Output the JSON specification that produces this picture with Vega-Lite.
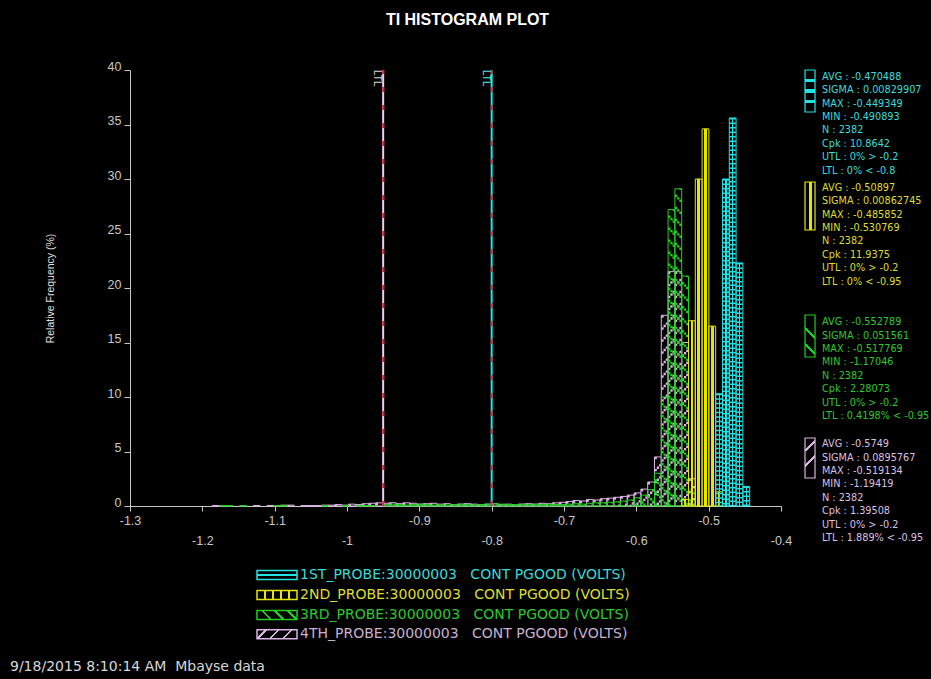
{
 "$schema": "https://vega.github.io/schema/vega-lite/v6.json",
 "width": 651,
 "height": 436,
 "autosize": {"type": "none"},
 "padding": {"left": 130, "top": 70, "right": 150, "bottom": 173},
 "background": "#000000",
 "config": {"view": {"stroke": null}},
 "title": {"text": "TI HISTOGRAM PLOT", "color": "#ffffff", "font": "Liberation Sans", "fontSize": 16, "fontWeight": "bold", "anchor": "middle", "frame": "group", "dx": 12, "offset": 32},
 "datasets": {
  "hist": [
   {"s":"P1","x0":-0.4903,"x1":-0.4809,"pct":10.3},
   {"s":"P1","x0":-0.4809,"x1":-0.4715,"pct":30.0},
   {"s":"P1","x0":-0.4715,"x1":-0.4621,"pct":35.6},
   {"s":"P1","x0":-0.4621,"x1":-0.4527,"pct":22.3},
   {"s":"P1","x0":-0.4527,"x1":-0.4433,"pct":1.8},
   {"s":"P2","x0":-0.5373,"x1":-0.5279,"pct":0.6},
   {"s":"P2","x0":-0.5279,"x1":-0.5185,"pct":17.0},
   {"s":"P2","x0":-0.5185,"x1":-0.5091,"pct":30.0},
   {"s":"P2","x0":-0.5091,"x1":-0.4997,"pct":34.6},
   {"s":"P2","x0":-0.4997,"x1":-0.4903,"pct":16.5},
   {"s":"P2","x0":-0.4903,"x1":-0.4809,"pct":1.3},
   {"s":"P3","x0":-1.1765,"x1":-1.1671,"pct":0.04},
   {"s":"P3","x0":-1.1671,"x1":-1.1577,"pct":0.04},
   {"s":"P3","x0":-1.1483,"x1":-1.1389,"pct":0.04},
   {"s":"P3","x0":-1.1013,"x1":-1.0919,"pct":0.04},
   {"s":"P3","x0":-1.0919,"x1":-1.0825,"pct":0.04},
   {"s":"P3","x0":-1.0355,"x1":-1.0261,"pct":0.04},
   {"s":"P3","x0":-1.0073,"x1":-0.9979,"pct":0.04},
   {"s":"P3","x0":-0.9885,"x1":-0.9791,"pct":0.04},
   {"s":"P3","x0":-0.9791,"x1":-0.9697,"pct":0.04},
   {"s":"P3","x0":-0.9697,"x1":-0.9603,"pct":0.04},
   {"s":"P3","x0":-0.9509,"x1":-0.9415,"pct":0.13},
   {"s":"P3","x0":-0.9415,"x1":-0.9321,"pct":0.17},
   {"s":"P3","x0":-0.9321,"x1":-0.9227,"pct":0.13},
   {"s":"P3","x0":-0.9227,"x1":-0.9133,"pct":0.08},
   {"s":"P3","x0":-0.9133,"x1":-0.9039,"pct":0.13},
   {"s":"P3","x0":-0.9039,"x1":-0.8945,"pct":0.17},
   {"s":"P3","x0":-0.8945,"x1":-0.8851,"pct":0.13},
   {"s":"P3","x0":-0.8851,"x1":-0.8757,"pct":0.08},
   {"s":"P3","x0":-0.8757,"x1":-0.8663,"pct":0.13},
   {"s":"P3","x0":-0.8663,"x1":-0.8569,"pct":0.08},
   {"s":"P3","x0":-0.8569,"x1":-0.8475,"pct":0.13},
   {"s":"P3","x0":-0.8475,"x1":-0.8381,"pct":0.17},
   {"s":"P3","x0":-0.8381,"x1":-0.8287,"pct":0.13},
   {"s":"P3","x0":-0.8287,"x1":-0.8193,"pct":0.08},
   {"s":"P3","x0":-0.8193,"x1":-0.8099,"pct":0.13},
   {"s":"P3","x0":-0.8099,"x1":-0.8005,"pct":0.17},
   {"s":"P3","x0":-0.8005,"x1":-0.7911,"pct":0.21},
   {"s":"P3","x0":-0.7911,"x1":-0.7817,"pct":0.17},
   {"s":"P3","x0":-0.7817,"x1":-0.7723,"pct":0.13},
   {"s":"P3","x0":-0.7723,"x1":-0.7629,"pct":0.13},
   {"s":"P3","x0":-0.7629,"x1":-0.7535,"pct":0.17},
   {"s":"P3","x0":-0.7535,"x1":-0.7441,"pct":0.13},
   {"s":"P3","x0":-0.7441,"x1":-0.7347,"pct":0.17},
   {"s":"P3","x0":-0.7347,"x1":-0.7253,"pct":0.13},
   {"s":"P3","x0":-0.7253,"x1":-0.7159,"pct":0.17},
   {"s":"P3","x0":-0.7159,"x1":-0.7065,"pct":0.13},
   {"s":"P3","x0":-0.7065,"x1":-0.6971,"pct":0.13},
   {"s":"P3","x0":-0.6971,"x1":-0.6877,"pct":0.17},
   {"s":"P3","x0":-0.6877,"x1":-0.6783,"pct":0.21},
   {"s":"P3","x0":-0.6783,"x1":-0.6689,"pct":0.17},
   {"s":"P3","x0":-0.6689,"x1":-0.6595,"pct":0.25},
   {"s":"P3","x0":-0.6595,"x1":-0.6501,"pct":0.29},
   {"s":"P3","x0":-0.6501,"x1":-0.6407,"pct":0.3},
   {"s":"P3","x0":-0.6407,"x1":-0.6313,"pct":0.34},
   {"s":"P3","x0":-0.6313,"x1":-0.6219,"pct":0.38},
   {"s":"P3","x0":-0.6219,"x1":-0.6125,"pct":0.46},
   {"s":"P3","x0":-0.6125,"x1":-0.6031,"pct":0.55},
   {"s":"P3","x0":-0.6031,"x1":-0.5937,"pct":0.76},
   {"s":"P3","x0":-0.5937,"x1":-0.5843,"pct":1.0},
   {"s":"P3","x0":-0.5843,"x1":-0.5749,"pct":1.5},
   {"s":"P3","x0":-0.5749,"x1":-0.5655,"pct":3.0},
   {"s":"P3","x0":-0.5655,"x1":-0.5561,"pct":10.0},
   {"s":"P3","x0":-0.5561,"x1":-0.5467,"pct":27.2},
   {"s":"P3","x0":-0.5467,"x1":-0.5373,"pct":29.1},
   {"s":"P3","x0":-0.5373,"x1":-0.5279,"pct":21.1},
   {"s":"P3","x0":-0.5279,"x1":-0.5185,"pct":1.2},
   {"s":"P4","x0":-1.1859,"x1":-1.1765,"pct":0.04},
   {"s":"P4","x0":-1.1295,"x1":-1.1201,"pct":0.04},
   {"s":"P4","x0":-1.1107,"x1":-1.1013,"pct":0.04},
   {"s":"P4","x0":-1.0919,"x1":-1.0825,"pct":0.08},
   {"s":"P4","x0":-1.0825,"x1":-1.0731,"pct":0.08},
   {"s":"P4","x0":-1.0637,"x1":-1.0543,"pct":0.04},
   {"s":"P4","x0":-1.0543,"x1":-1.0449,"pct":0.04},
   {"s":"P4","x0":-1.0449,"x1":-1.0355,"pct":0.04},
   {"s":"P4","x0":-1.0355,"x1":-1.0261,"pct":0.08},
   {"s":"P4","x0":-1.0261,"x1":-1.0167,"pct":0.08},
   {"s":"P4","x0":-1.0167,"x1":-1.0073,"pct":0.13},
   {"s":"P4","x0":-1.0073,"x1":-0.9979,"pct":0.08},
   {"s":"P4","x0":-0.9979,"x1":-0.9885,"pct":0.17},
   {"s":"P4","x0":-0.9885,"x1":-0.9791,"pct":0.13},
   {"s":"P4","x0":-0.9791,"x1":-0.9697,"pct":0.21},
   {"s":"P4","x0":-0.9697,"x1":-0.9603,"pct":0.25},
   {"s":"P4","x0":-0.9603,"x1":-0.9509,"pct":0.29},
   {"s":"P4","x0":-0.9509,"x1":-0.9415,"pct":0.25},
   {"s":"P4","x0":-0.9415,"x1":-0.9321,"pct":0.3},
   {"s":"P4","x0":-0.9321,"x1":-0.9227,"pct":0.21},
   {"s":"P4","x0":-0.9227,"x1":-0.9133,"pct":0.29},
   {"s":"P4","x0":-0.9133,"x1":-0.9039,"pct":0.25},
   {"s":"P4","x0":-0.9039,"x1":-0.8945,"pct":0.17},
   {"s":"P4","x0":-0.8945,"x1":-0.8851,"pct":0.21},
   {"s":"P4","x0":-0.8851,"x1":-0.8757,"pct":0.25},
   {"s":"P4","x0":-0.8757,"x1":-0.8663,"pct":0.17},
   {"s":"P4","x0":-0.8663,"x1":-0.8569,"pct":0.21},
   {"s":"P4","x0":-0.8569,"x1":-0.8475,"pct":0.13},
   {"s":"P4","x0":-0.8475,"x1":-0.8381,"pct":0.17},
   {"s":"P4","x0":-0.8381,"x1":-0.8287,"pct":0.21},
   {"s":"P4","x0":-0.8287,"x1":-0.8193,"pct":0.17},
   {"s":"P4","x0":-0.8193,"x1":-0.8099,"pct":0.13},
   {"s":"P4","x0":-0.8099,"x1":-0.8005,"pct":0.17},
   {"s":"P4","x0":-0.8005,"x1":-0.7911,"pct":0.21},
   {"s":"P4","x0":-0.7911,"x1":-0.7817,"pct":0.13},
   {"s":"P4","x0":-0.7817,"x1":-0.7723,"pct":0.17},
   {"s":"P4","x0":-0.7723,"x1":-0.7629,"pct":0.13},
   {"s":"P4","x0":-0.7629,"x1":-0.7535,"pct":0.17},
   {"s":"P4","x0":-0.7535,"x1":-0.7441,"pct":0.21},
   {"s":"P4","x0":-0.7441,"x1":-0.7347,"pct":0.17},
   {"s":"P4","x0":-0.7347,"x1":-0.7253,"pct":0.25},
   {"s":"P4","x0":-0.7253,"x1":-0.7159,"pct":0.21},
   {"s":"P4","x0":-0.7159,"x1":-0.7065,"pct":0.29},
   {"s":"P4","x0":-0.7065,"x1":-0.6971,"pct":0.34},
   {"s":"P4","x0":-0.6971,"x1":-0.6877,"pct":0.42},
   {"s":"P4","x0":-0.6877,"x1":-0.6783,"pct":0.5},
   {"s":"P4","x0":-0.6783,"x1":-0.6689,"pct":0.46},
   {"s":"P4","x0":-0.6689,"x1":-0.6595,"pct":0.59},
   {"s":"P4","x0":-0.6595,"x1":-0.6501,"pct":0.55},
   {"s":"P4","x0":-0.6501,"x1":-0.6407,"pct":0.67},
   {"s":"P4","x0":-0.6407,"x1":-0.6313,"pct":0.72},
   {"s":"P4","x0":-0.6313,"x1":-0.6219,"pct":0.8},
   {"s":"P4","x0":-0.6219,"x1":-0.6125,"pct":0.88},
   {"s":"P4","x0":-0.6125,"x1":-0.6031,"pct":1.0},
   {"s":"P4","x0":-0.6031,"x1":-0.5937,"pct":1.2},
   {"s":"P4","x0":-0.5937,"x1":-0.5843,"pct":1.55},
   {"s":"P4","x0":-0.5843,"x1":-0.5749,"pct":2.2},
   {"s":"P4","x0":-0.5749,"x1":-0.5655,"pct":4.5},
   {"s":"P4","x0":-0.5655,"x1":-0.5561,"pct":17.5},
   {"s":"P4","x0":-0.5561,"x1":-0.5467,"pct":21.5},
   {"s":"P4","x0":-0.5467,"x1":-0.5373,"pct":21.5},
   {"s":"P4","x0":-0.5373,"x1":-0.5279,"pct":15.0},
   {"s":"P4","x0":-0.5279,"x1":-0.5185,"pct":2.5}
  ],
  "stats": [
   {"s":"P1","lines":["AVG : -0.470488","SIGMA : 0.00829907","MAX : -0.449349","MIN : -0.490893","N : 2382","Cpk : 10.8642","UTL : 0% > -0.2","LTL : 0% < -0.8"]},
   {"s":"P2","lines":["AVG : -0.50897","SIGMA : 0.00862745","MAX : -0.485852","MIN : -0.530769","N : 2382","Cpk : 11.9375","UTL : 0% > -0.2","LTL : 0% < -0.95"]},
   {"s":"P3","lines":["AVG : -0.552789","SIGMA : 0.051561","MAX : -0.517769","MIN : -1.17046","N : 2382","Cpk : 2.28073","UTL : 0% > -0.2","LTL : 0.4198% < -0.95"]},
   {"s":"P4","lines":["AVG : -0.5749","SIGMA : 0.0895767","MAX : -0.519134","MIN : -1.19419","N : 2382","Cpk : 1.39508","UTL : 0% > -0.2","LTL : 1.889% < -0.95"]}
  ],
  "legend": [
   {"s":"P1","label":"1ST_PROBE:30000003\u00a0\u00a0\u00a0CONT PGOOD (VOLTS)"},
   {"s":"P2","label":"2ND_PROBE:30000003\u00a0\u00a0\u00a0CONT PGOOD (VOLTS)"},
   {"s":"P3","label":"3RD_PROBE:30000003\u00a0\u00a0\u00a0CONT PGOOD (VOLTS)"},
   {"s":"P4","label":"4TH_PROBE:30000003\u00a0\u00a0\u00a0CONT PGOOD (VOLTS)"}
  ]
 },
 "layer": [
  {"data":{"name":"hist"},"transform":[{"filter":"datum.s=='P4'"}],
   "mark":{"type":"bar","fill":"rgba(0,0,0,0)","stroke":"#dcb4e6","strokeWidth":1},
   "encoding":{
    "x":{"field":"x0","type":"quantitative","scale":{"domain":[-1.3,-0.4],"nice":false,"zero":false},
     "axis":{"title":null,"grid":false,"values":[-1.3,-1.2,-1.1,-1,-0.9,-0.8,-0.7,-0.6,-0.5,-0.4],"labelExpr":"abs(round(datum.value*10)) % 2 == 0 ? ['', '' + datum.value] : '' + datum.value","labelLineHeight":20,"labelOverlap":false,"labelFlush":false,"labelColor":"#c8c8c8","labelFont":"Liberation Sans","labelFontSize":12.5,"labelPadding":3,"tickSize":5,"tickColor":"#c8c8c8","domainColor":"#c8c8c8"}},
    "x2":{"field":"x1"},
    "y":{"field":"pct","type":"quantitative","scale":{"domain":[0,40],"nice":false},
     "axis":{"title":"Relative Frequency (%)","titleColor":"#e0e0e0","titleFont":"Liberation Sans","titleFontSize":10.5,"titleFontWeight":"normal","titlePadding":52,"grid":false,"values":[0,5,10,15,20,25,30,35,40],"labelExpr":"'' + datum.value","labelColor":"#c8c8c8","labelFont":"Liberation Sans","labelFontSize":12.5,"labelBaseline":"alphabetic","labelPadding":3,"tickSize":6,"tickColor":"#c8c8c8","domainColor":"#c8c8c8"}},
    "y2":{"datum":0}
   }},
  {"data":{"name":"hist"},"transform":[{"filter":"datum.s=='P4'"}],
   "mark":{"type":"rule","color":"#dcb4e6","strokeWidth":2.3,"strokeDash":[2.4,9.6],"strokeDashOffset":0,"xOffset":1.2},
   "encoding":{"x":{"field":"x0","type":"quantitative"},"y":{"field":"pct","type":"quantitative"},"y2":{"datum":0}}},
  {"data":{"name":"hist"},"transform":[{"filter":"datum.s=='P4'"}],
   "mark":{"type":"rule","color":"#dcb4e6","strokeWidth":2.3,"strokeDash":[2.4,9.6],"strokeDashOffset":2.4,"xOffset":3.4},
   "encoding":{"x":{"field":"x0","type":"quantitative"},"y":{"field":"pct","type":"quantitative"},"y2":{"datum":0}}},
  {"data":{"name":"hist"},"transform":[{"filter":"datum.s=='P4'"}],
   "mark":{"type":"rule","color":"#dcb4e6","strokeWidth":2.3,"strokeDash":[2.4,9.6],"strokeDashOffset":4.8,"xOffset":5.6},
   "encoding":{"x":{"field":"x0","type":"quantitative"},"y":{"field":"pct","type":"quantitative"},"y2":{"datum":0}}},
  {"data":{"name":"hist"},"transform":[{"filter":"datum.s=='P3'"}],
   "mark":{"type":"bar","fill":"rgba(0,0,0,0)","stroke":"#22d022","strokeWidth":1},
   "encoding":{"x":{"field":"x0","type":"quantitative"},"x2":{"field":"x1"},"y":{"field":"pct","type":"quantitative"},"y2":{"datum":0}}},
  {"data":{"name":"hist"},"transform":[{"filter":"datum.s=='P3'"}],
   "mark":{"type":"rule","color":"#22d022","strokeWidth":2.3,"strokeDash":[2.4,9.6],"strokeDashOffset":6,"xOffset":1.2},
   "encoding":{"x":{"field":"x0","type":"quantitative"},"y":{"field":"pct","type":"quantitative"},"y2":{"datum":0}}},
  {"data":{"name":"hist"},"transform":[{"filter":"datum.s=='P3'"}],
   "mark":{"type":"rule","color":"#22d022","strokeWidth":2.3,"strokeDash":[2.4,9.6],"strokeDashOffset":3.6,"xOffset":3.4},
   "encoding":{"x":{"field":"x0","type":"quantitative"},"y":{"field":"pct","type":"quantitative"},"y2":{"datum":0}}},
  {"data":{"name":"hist"},"transform":[{"filter":"datum.s=='P3'"}],
   "mark":{"type":"rule","color":"#22d022","strokeWidth":2.3,"strokeDash":[2.4,9.6],"strokeDashOffset":1.2,"xOffset":5.6},
   "encoding":{"x":{"field":"x0","type":"quantitative"},"y":{"field":"pct","type":"quantitative"},"y2":{"datum":0}}},
  {"data":{"name":"hist"},"transform":[{"filter":"datum.s=='P2'"}],
   "mark":{"type":"bar","stroke":"#e6e600","strokeWidth":1,
    "fill":{"gradient":"linear","x1":0,"y1":0,"x2":1,"y2":0,"stops":[{"offset":0,"color":"rgba(0,0,0,0)"},{"offset":0.3,"color":"rgba(0,0,0,0)"},{"offset":0.3,"color":"#e6e600"},{"offset":0.7,"color":"#e6e600"},{"offset":0.7,"color":"rgba(0,0,0,0)"},{"offset":1,"color":"rgba(0,0,0,0)"}]}},
   "encoding":{"x":{"field":"x0","type":"quantitative"},"x2":{"field":"x1"},"y":{"field":"pct","type":"quantitative"},"y2":{"datum":0}}},
  {"data":{"name":"hist"},"transform":[{"filter":"datum.s=='P1'"}],
   "mark":{"type":"bar","stroke":"#22e4e4","strokeWidth":1,
    "fill":{"gradient":"linear","x1":0,"y1":0,"x2":1,"y2":0,"stops":[{"offset":0,"color":"rgba(0,0,0,0)"},{"offset":0.42,"color":"rgba(0,0,0,0)"},{"offset":0.42,"color":"#22e4e4"},{"offset":0.6,"color":"#22e4e4"},{"offset":0.6,"color":"rgba(0,0,0,0)"},{"offset":1,"color":"rgba(0,0,0,0)"}]}},
   "encoding":{"x":{"field":"x0","type":"quantitative"},"x2":{"field":"x1"},"y":{"field":"pct","type":"quantitative"},"y2":{"datum":0}}},
  {"data":{"name":"hist"},"transform":[{"filter":"datum.s=='P1'"}],
   "mark":{"type":"rule","color":"#22e4e4","strokeWidth":6.2,"strokeDash":[1.6,2.9],"xOffset":3.4},
   "encoding":{"x":{"field":"x0","type":"quantitative"},"y":{"field":"pct","type":"quantitative"},"y2":{"datum":0}}},
  {"data":{"values":[{"v":-0.95}]},"mark":{"type":"rule","color":"#f2cdf2","strokeWidth":2},
   "encoding":{"x":{"field":"v","type":"quantitative"},"y":{"datum":0},"y2":{"datum":40}}},
  {"data":{"values":[{"v":-0.95}]},"mark":{"type":"rule","color":"#e8203c","strokeWidth":2,"strokeDash":[5,13]},
   "encoding":{"x":{"field":"v","type":"quantitative"},"y":{"datum":0},"y2":{"datum":40}}},
  {"data":{"values":[{"v":-0.8}]},"mark":{"type":"rule","color":"#22e4e4","strokeWidth":2},
   "encoding":{"x":{"field":"v","type":"quantitative"},"y":{"datum":0},"y2":{"datum":40}}},
  {"data":{"values":[{"v":-0.8}]},"mark":{"type":"rule","color":"#e8203c","strokeWidth":2,"strokeDash":[5,13]},
   "encoding":{"x":{"field":"v","type":"quantitative"},"y":{"datum":0},"y2":{"datum":40}}},
  {"data":{"values":[{"v":-0.95,"t":"LTL"}]},"mark":{"type":"text","angle":90,"align":"left","baseline":"top","font":"Liberation Sans","fontSize":10,"color":"#d8d8d8","dy":1},
   "encoding":{"x":{"field":"v","type":"quantitative"},"y":{"datum":40},"text":{"field":"t"}}},
  {"data":{"values":[{"v":-0.8,"t":"LTL"}]},"mark":{"type":"text","angle":90,"align":"left","baseline":"top","font":"Liberation Sans","fontSize":10,"color":"#5ee8e8","dy":1},
   "encoding":{"x":{"field":"v","type":"quantitative"},"y":{"datum":40},"text":{"field":"t"}}},

  {"data":{"values":[{}]},"mark":{"type":"rect","stroke":"#22e4e4","strokeWidth":1.2,
    "fill":{"gradient":"linear","x1":0,"y1":0,"x2":0,"y2":1,"stops":[{"offset":0,"color":"rgba(0,0,0,0)"},{"offset":0.21,"color":"rgba(0,0,0,0)"},{"offset":0.21,"color":"#22e4e4"},{"offset":0.29,"color":"#22e4e4"},{"offset":0.29,"color":"rgba(0,0,0,0)"},{"offset":0.46,"color":"rgba(0,0,0,0)"},{"offset":0.46,"color":"#22e4e4"},{"offset":0.54,"color":"#22e4e4"},{"offset":0.54,"color":"rgba(0,0,0,0)"},{"offset":0.71,"color":"rgba(0,0,0,0)"},{"offset":0.71,"color":"#22e4e4"},{"offset":0.79,"color":"#22e4e4"},{"offset":0.79,"color":"rgba(0,0,0,0)"},{"offset":1,"color":"rgba(0,0,0,0)"}]}},
   "encoding":{"x":{"datum":-0.36679},"x2":{"datum":-0.35297},"y":{"datum":40.0},"y2":{"datum":36.147}}},
  {"data":{"name":"stats"},"transform":[{"filter":"datum.s=='P1'"}],
   "mark":{"type":"text","align":"left","baseline":"top","lineHeight":13.4,"font":"DejaVu Sans","fontSize":9.7,"color":"#3cdcdc"},
   "encoding":{"x":{"datum":-0.3433},"y":{"datum":39.84},"text":{"field":"lines"}}},

  {"data":{"values":[{}]},"mark":{"type":"rect","stroke":"#e6e600","strokeWidth":1.2,
    "fill":{"gradient":"linear","x1":0,"y1":0,"x2":1,"y2":0,"stops":[{"offset":0,"color":"rgba(0,0,0,0)"},{"offset":0.35,"color":"rgba(0,0,0,0)"},{"offset":0.35,"color":"#e6e600"},{"offset":0.65,"color":"#e6e600"},{"offset":0.65,"color":"rgba(0,0,0,0)"},{"offset":1,"color":"rgba(0,0,0,0)"}]}},
   "encoding":{"x":{"datum":-0.36679},"x2":{"datum":-0.35297},"y":{"datum":29.725},"y2":{"datum":25.321}}},
  {"data":{"name":"stats"},"transform":[{"filter":"datum.s=='P2'"}],
   "mark":{"type":"text","align":"left","baseline":"top","lineHeight":13.4,"font":"DejaVu Sans","fontSize":9.7,"color":"#dede30"},
   "encoding":{"x":{"datum":-0.3433},"y":{"datum":29.656},"text":{"field":"lines"}}},

  {"data":{"values":[{}]},"mark":{"type":"rect","stroke":"#22d022","strokeWidth":1.2,
    "fill":{"gradient":"linear","x1":0,"y1":1,"x2":0.238,"y2":0,"stops":[{"offset":0,"color":"rgba(0,0,0,0)"},{"offset":0.26,"color":"rgba(0,0,0,0)"},{"offset":0.26,"color":"#22d022"},{"offset":0.33,"color":"#22d022"},{"offset":0.33,"color":"rgba(0,0,0,0)"},{"offset":0.62,"color":"rgba(0,0,0,0)"},{"offset":0.62,"color":"#22d022"},{"offset":0.69,"color":"#22d022"},{"offset":0.69,"color":"rgba(0,0,0,0)"},{"offset":1,"color":"rgba(0,0,0,0)"}]}},
   "encoding":{"x":{"datum":-0.36679},"x2":{"datum":-0.35297},"y":{"datum":17.523},"y2":{"datum":13.670}}},
  {"data":{"name":"stats"},"transform":[{"filter":"datum.s=='P3'"}],
   "mark":{"type":"text","align":"left","baseline":"top","lineHeight":13.4,"font":"DejaVu Sans","fontSize":9.7,"color":"#2ec82e"},
   "encoding":{"x":{"datum":-0.3433},"y":{"datum":17.317},"text":{"field":"lines"}}},

  {"data":{"values":[{}]},"mark":{"type":"rect","stroke":"#dcb4e6","strokeWidth":1.2,
    "fill":{"gradient":"linear","x1":0,"y1":0,"x2":0.238,"y2":1,"stops":[{"offset":0,"color":"rgba(0,0,0,0)"},{"offset":0.26,"color":"rgba(0,0,0,0)"},{"offset":0.26,"color":"#dcb4e6"},{"offset":0.33,"color":"#dcb4e6"},{"offset":0.33,"color":"rgba(0,0,0,0)"},{"offset":0.62,"color":"rgba(0,0,0,0)"},{"offset":0.62,"color":"#dcb4e6"},{"offset":0.69,"color":"#dcb4e6"},{"offset":0.69,"color":"rgba(0,0,0,0)"},{"offset":1,"color":"rgba(0,0,0,0)"}]}},
   "encoding":{"x":{"datum":-0.36679},"x2":{"datum":-0.35297},"y":{"datum":6.239},"y2":{"datum":2.569}}},
  {"data":{"name":"stats"},"transform":[{"filter":"datum.s=='P4'"}],
   "mark":{"type":"text","align":"left","baseline":"top","lineHeight":13.4,"font":"DejaVu Sans","fontSize":9.7,"color":"#dcc0e4"},
   "encoding":{"x":{"datum":-0.3433},"y":{"datum":6.124},"text":{"field":"lines"}}},

  {"data":{"values":[{}]},"mark":{"type":"rect","stroke":"#22e4e4","strokeWidth":1.5,
    "fill":{"gradient":"linear","x1":0,"y1":0,"x2":0,"y2":1,"stops":[{"offset":0,"color":"rgba(0,0,0,0)"},{"offset":0.4,"color":"rgba(0,0,0,0)"},{"offset":0.4,"color":"#22e4e4"},{"offset":0.6,"color":"#22e4e4"},{"offset":0.6,"color":"rgba(0,0,0,0)"},{"offset":1,"color":"rgba(0,0,0,0)"}]}},
   "encoding":{"x":{"datum":-1.1244},"x2":{"datum":-1.0691},"y":{"datum":-5.917},"y2":{"datum":-6.743}}},
  {"data":{"name":"legend"},"transform":[{"filter":"datum.s=='P1'"}],
   "mark":{"type":"text","align":"left","baseline":"middle","font":"DejaVu Sans","fontSize":14,"color":"#3cd8d8"},
   "encoding":{"x":{"datum":-1.0649},"y":{"datum":-6.33},"text":{"field":"label"}}},

  {"data":{"values":[{}]},"mark":{"type":"rect","stroke":"#e6e600","strokeWidth":1.5,
    "fill":{"gradient":"linear","x1":0,"y1":0,"x2":1,"y2":0,"stops":[{"offset":0,"color":"rgba(0,0,0,0)"},{"offset":0.17,"color":"rgba(0,0,0,0)"},{"offset":0.17,"color":"#e6e600"},{"offset":0.23,"color":"#e6e600"},{"offset":0.23,"color":"rgba(0,0,0,0)"},{"offset":0.37,"color":"rgba(0,0,0,0)"},{"offset":0.37,"color":"#e6e600"},{"offset":0.43,"color":"#e6e600"},{"offset":0.43,"color":"rgba(0,0,0,0)"},{"offset":0.57,"color":"rgba(0,0,0,0)"},{"offset":0.57,"color":"#e6e600"},{"offset":0.63,"color":"#e6e600"},{"offset":0.63,"color":"rgba(0,0,0,0)"},{"offset":0.77,"color":"rgba(0,0,0,0)"},{"offset":0.77,"color":"#e6e600"},{"offset":0.83,"color":"#e6e600"},{"offset":0.83,"color":"rgba(0,0,0,0)"},{"offset":1,"color":"rgba(0,0,0,0)"}]}},
   "encoding":{"x":{"datum":-1.1244},"x2":{"datum":-1.0691},"y":{"datum":-7.752},"y2":{"datum":-8.578}}},
  {"data":{"name":"legend"},"transform":[{"filter":"datum.s=='P2'"}],
   "mark":{"type":"text","align":"left","baseline":"middle","font":"DejaVu Sans","fontSize":14,"color":"#dede30"},
   "encoding":{"x":{"datum":-1.0649},"y":{"datum":-8.165},"text":{"field":"label"}}},

  {"data":{"values":[{}]},"mark":{"type":"rect","stroke":"#22d022","strokeWidth":1.5,
    "fill":{"gradient":"linear","x1":0,"y1":0.225,"x2":1,"y2":0,"stops":[{"offset":0,"color":"rgba(0,0,0,0)"},{"offset":0.14,"color":"rgba(0,0,0,0)"},{"offset":0.14,"color":"#22d022"},{"offset":0.2,"color":"#22d022"},{"offset":0.2,"color":"rgba(0,0,0,0)"},{"offset":0.44,"color":"rgba(0,0,0,0)"},{"offset":0.44,"color":"#22d022"},{"offset":0.5,"color":"#22d022"},{"offset":0.5,"color":"rgba(0,0,0,0)"},{"offset":0.74,"color":"rgba(0,0,0,0)"},{"offset":0.74,"color":"#22d022"},{"offset":0.8,"color":"#22d022"},{"offset":0.8,"color":"rgba(0,0,0,0)"},{"offset":1,"color":"rgba(0,0,0,0)"}]}},
   "encoding":{"x":{"datum":-1.1244},"x2":{"datum":-1.0691},"y":{"datum":-9.587},"y2":{"datum":-10.413}}},
  {"data":{"name":"legend"},"transform":[{"filter":"datum.s=='P3'"}],
   "mark":{"type":"text","align":"left","baseline":"middle","font":"DejaVu Sans","fontSize":14,"color":"#2ec82e"},
   "encoding":{"x":{"datum":-1.0649},"y":{"datum":-10.0},"text":{"field":"label"}}},

  {"data":{"values":[{}]},"mark":{"type":"rect","stroke":"#dcb4e6","strokeWidth":1.5,
    "fill":{"gradient":"linear","x1":0,"y1":0,"x2":1,"y2":0.225,"stops":[{"offset":0,"color":"rgba(0,0,0,0)"},{"offset":0.19,"color":"rgba(0,0,0,0)"},{"offset":0.19,"color":"#dcb4e6"},{"offset":0.25,"color":"#dcb4e6"},{"offset":0.25,"color":"rgba(0,0,0,0)"},{"offset":0.49,"color":"rgba(0,0,0,0)"},{"offset":0.49,"color":"#dcb4e6"},{"offset":0.55,"color":"#dcb4e6"},{"offset":0.55,"color":"rgba(0,0,0,0)"},{"offset":0.79,"color":"rgba(0,0,0,0)"},{"offset":0.79,"color":"#dcb4e6"},{"offset":0.85,"color":"#dcb4e6"},{"offset":0.85,"color":"rgba(0,0,0,0)"},{"offset":1,"color":"rgba(0,0,0,0)"}]}},
   "encoding":{"x":{"datum":-1.1244},"x2":{"datum":-1.0691},"y":{"datum":-11.358},"y2":{"datum":-12.184}}},
  {"data":{"name":"legend"},"transform":[{"filter":"datum.s=='P4'"}],
   "mark":{"type":"text","align":"left","baseline":"middle","font":"DejaVu Sans","fontSize":14,"color":"#c8b0d0"},
   "encoding":{"x":{"datum":-1.0649},"y":{"datum":-11.771},"text":{"field":"label"}}},

  {"data":{"values":[{"t":"9/18/2015 8:10:14 AM\u00a0\u00a0Mbayse data"}]},
   "mark":{"type":"text","align":"left","baseline":"middle","font":"DejaVu Sans","fontSize":14,"color":"#d8d8d8"},
   "encoding":{"x":{"datum":-1.4659},"y":{"datum":-14.771},"text":{"field":"t"}}}
 ]
}
